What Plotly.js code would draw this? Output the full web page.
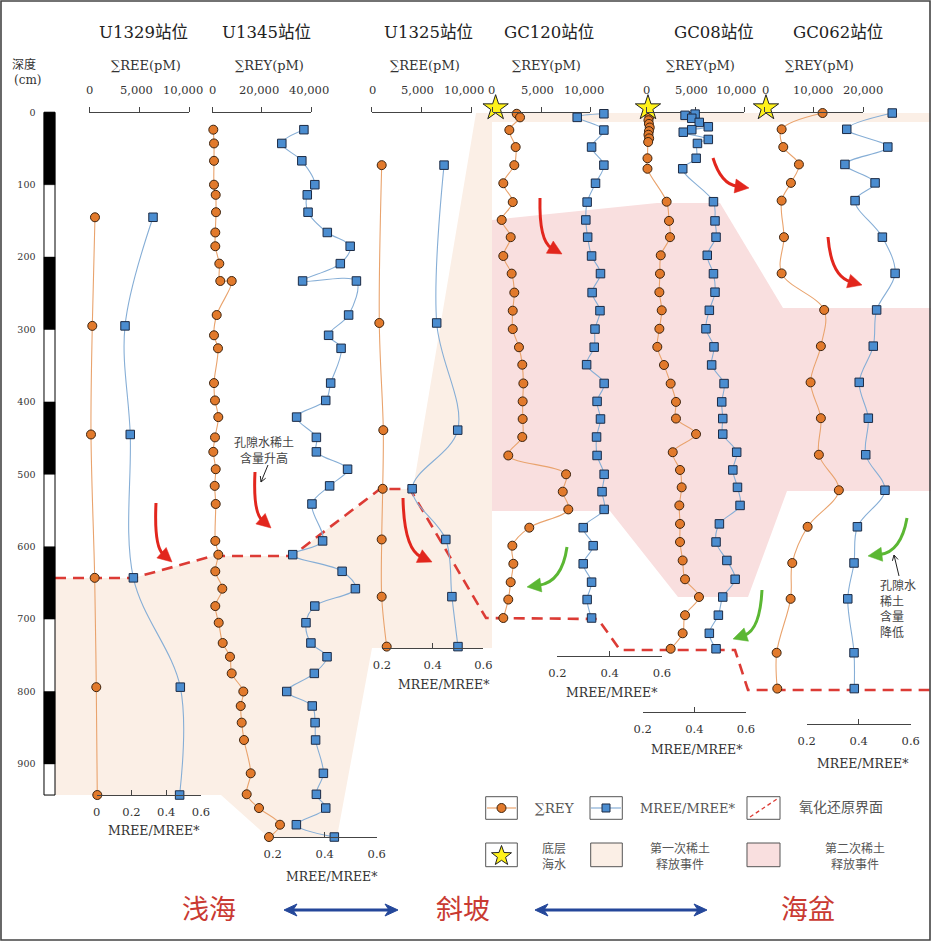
<!DOCTYPE html>
<html><head><meta charset="utf-8">
<script src="https://cdn.plot.ly/plotly-3.0.1.min.js"></script>
<style>html,body{margin:0;padding:0;background:#fff}</style>
</head><body><div id="chart" style="width:931px;height:941px"></div>
<script>
// ---------------- data ----------------
const stationNames = ['U1329站位','U1345站位','U1325站位','GC120站位','GC08站位','GC062站位'];
const sumNames = ['∑REE(pM)','∑REY(pM)','∑REE(pM)','∑REY(pM)','∑REY(pM)','∑REY(pM)'];
const depthTicks = [0,100,200,300,400,500,600,700,800,900];
const topTickVals = [[0,5000,10000],[0,20000,40000],[0,5000,10000],[0,5000,10000],[0,5000,10000],[0,10000,20000]];
const topTickText = [['0','5,000','10,000'],['0','20,000','40,000'],['0','5,000','10,000'],['0','5,000','10,000'],['0','5,000','10,000'],['0','10,000','20,000']];
const mreeTicksFirst = [0, 0.2, 0.4, 0.6];
const mreeTicks = [0.2, 0.4, 0.6];

const u1329Depth = [145, 295, 445, 643, 794, 943];
const u1329Ree = [570, 300, 170, 540, 700, 800];
const u1329Mree = [0.324, 0.163, 0.193, 0.211, 0.481, 0.477];

const u1345Depth = [24,43,67,100,114,138,166,185,209,233,233,280,308,326,374,398,421,449,469,493,516,541,592,611,634,658,682,705,733,752,775,800,820,843,867,913,942,961,984,1001];
const u1345Rey = [525,810,810,810,1500,1620,1330,1330,2950,3350,7960,1900,810,2420,810,1210,2550,1210,525,1500,1090,1500,1330,2550,1330,4160,1330,2710,4320,7270,7960,12650,11600,12000,12930,15640,14020,18990,27470,23030];
const u1345Mree = [0.320,0.235,0.312,0.362,0.333,0.336,0.410,0.498,0.460,0.315,0.522,0.492,0.415,0.463,0.423,0.404,0.292,0.368,0.368,0.488,0.419,0.351,0.392,0.277,0.467,0.518,0.362,0.328,0.347,0.409,0.360,0.254,0.352,0.363,0.365,0.395,0.368,0.404,0.291,0.437];

const u1325Depth = [73, 291, 439, 520, 590, 669, 738];
const u1325Ree = [1000, 760, 1160, 1100, 1000, 1000, 1500];
const u1325Mree = [0.445, 0.416, 0.499, 0.319, 0.452, 0.476, 0.500];

const gc120Depth = [2,7,24.5,48,73,98,124,148.7,172.5,198.5,222.8,249,274,299.4,324.5,348.6,374.5,399.3,423.6,448.5,474,500,524,548.5,573.7,598.6,623.6,649,673,698.5];
const gc120Rey = [2470,2810,1710,2360,2220,1090,2060,925,1850,1090,1950,2220,2060,2060,2700,3040,3150,3080,3080,3040,1600,7540,7200,7770,3760,2020,2120,1850,1600,1090];
const gc120Mree = [0.378,0.276,0.378,0.331,0.378,0.346,0.314,0.309,0.316,0.331,0.365,0.333,0.363,0.344,0.341,0.312,0.379,0.352,0.365,0.350,0.352,0.379,0.371,0.379,0.299,0.337,0.299,0.331,0.314,0.331];

const gc08ReyDepth = [2,6,11,16,21,26,31,36,41,63.5,78,123.5,150,172.5,197.5,223,248.5,273.5,299,324,349,374.7,400,423,444.5,469.5,494,518,543,568.5,593.5,619,645,669.5,694.6,719.6,741];
const gc08Rey = [300,350,250,300,380,300,250,320,220,150,150,2100,2340,2440,1500,1420,1360,1600,1360,1150,1830,2510,3050,3050,5090,2720,3460,3630,3390,3460,3460,3730,3970,5390,3970,3730,2510];
const gc08MreeDepth = [2.5,4.2,8.3,14,20,24,27.5,37.5,43,63.5,78,123.5,150,172.5,197.5,223,248.5,273.5,299,324,349,374.7,400,423,444.5,469.5,494,518,543,568.5,593.5,619,645,669.5,694.6,719.6,741];
const gc08Mree = [0.403,0.364,0.390,0.419,0.454,0.390,0.357,0.454,0.412,0.407,0.355,0.474,0.480,0.484,0.450,0.474,0.480,0.458,0.445,0.476,0.467,0.515,0.506,0.510,0.510,0.564,0.549,0.567,0.577,0.497,0.484,0.526,0.558,0.510,0.493,0.458,0.484];

const gc062Depth = [1,23.5,48,72,97.5,122,172.5,222.5,273,323,373,422.5,473,522,572.5,622.5,672,746.5,796];
const gc062Rey = [11760,3470,3800,6970,5350,3470,3940,3470,12080,11410,9330,11410,11010,15050,8730,5620,5290,2460,2590];
const gc062Mree = [0.529,0.354,0.512,0.347,0.463,0.386,0.491,0.540,0.469,0.456,0.402,0.437,0.427,0.501,0.395,0.382,0.358,0.382,0.383];

// bottom seawater (stars) for GC120, GC08, GC062
const seawaterDepth = -6;
const seawaterRey = [300, 200, 300];

// ---------------- geometry helpers ----------------
const W = 931, H = 941;
const px = x => x / W;
const py = y => 1 - y / H;
const D0 = 112.3, K = 0.724;         // pixel y of depth 0, px per cm
const yTopDepth = -D0 / K, yBotDepth = (H - D0) / K;
const dpx = d => D0 + K * d;
const P = (x, y) => px(x).toFixed(5) + ',' + py(y).toFixed(5);
const poly = (pts, close) => 'M' + pts.map(p => P(p[0], p[1])).join('L') + (close ? 'Z' : '');

const FONT = 'DejaVu Serif, Noto Sans CJK SC, serif';
const CJK = 'Noto Sans CJK SC, DejaVu Serif, sans-serif';
const ORANGE = '#e27a2c', ORANGE_LINE = '#e9a36d', ORANGE_EDGE = '#3d2410';
const BLUE = '#4b8dd0', BLUE_LINE = '#86aed6', BLUE_EDGE = '#1c2b45';
const BEIGE = '#fbefe6', PINK = '#f9dfdf';
const RED = '#e2261d', GREEN = '#5bb733', DASHRED = '#dc3b35';

// panel axis geometry (pixels)
const panels = [
  {top:[89.3,189], max:10000, bot:[96.7,201], br:[0,0.6], by:795, lab:[89.3,136,183]},
  {top:[212,311], max:40000, bot:[272.7,376.7], br:[0.2,0.6], by:837, lab:[212.5,258.7,309]},
  {top:[371.7,471.7], max:10000, bot:[382,483.3], br:[0.2,0.6], by:648, lab:[372,417.5,464]},
  {top:[492.7,590], max:10000, bot:[557.3,662], br:[0.2,0.6], by:656, lab:[491,537,584]},
  {top:[646,744.3], max:10000, bot:[642.7,746], br:[0.2,0.6], by:712, lab:[646,691.7,736]},
  {top:[764.5,863.3], max:20000, bot:[806.7,910.7], br:[0.2,0.6], by:724, lab:[765.5,812.5,862.5]}
];
const titlePos = [[143.5,33],[266,33],[428,33],[549,33],[714,33],[837.5,33]];
const subPos = [[146,66],[269,66],[425,66],[546,66],[700,66],[819,66]];
const mreeTitlePos = [[154,830],[332,876],[444,684],[612,692],[697,749],[863,763]];

const layout = {
  width: W, height: H, margin: {l:0, r:0, t:0, b:0},
  paper_bgcolor: '#ffffff', plot_bgcolor: 'rgba(0,0,0,0)',
  showlegend: false,
  font: {family: FONT, color: '#333'},
  yaxis: {domain:[0,1], range:[yBotDepth, yTopDepth], autorange:false, anchor:'free', position:px(35.5),
          showline:false, zeroline:false, showgrid:false, ticks:'', tickvals:depthTicks,
          tickfont:{size:9.5, color:'#333', family:FONT}},
  shapes: [], annotations: []
};

panels.forEach((p, i) => {
  const tId = 2*i + 1, bId = 2*i + 2;
  const tk = tId === 1 ? 'xaxis' : 'xaxis' + tId;
  const btv = i === 0 ? mreeTicksFirst : mreeTicks;
  layout[tk] = {domain:[px(p.top[0]), px(p.top[1])], range:[0, p.max], autorange:false,
    anchor:'free', position:py(112.3), side:'top', showline:true, linecolor:'#444', linewidth:1,
    ticks:'outside', ticklen:5, tickcolor:'#444', tickwidth:1, tickvals:topTickVals[i],
    showticklabels:false, showgrid:false, zeroline:false};
  layout['xaxis' + bId] = {domain:[px(p.bot[0]), px(p.bot[1])], range:p.br, autorange:false,
    anchor:'free', position:py(p.by), side:'bottom', showline:true, linecolor:'#444', linewidth:1,
    ticks:'inside', ticklen:5, tickcolor:'#444', tickwidth:1, tickvals:btv,
    ticktext:btv.map(v => v === 0 ? '0' : String(v)),
    tickfont:{size:11.5, color:'#333', family:FONT}, ticklabelstandoff:6,
    showgrid:false, zeroline:false};
  // top (sum) tick labels, placed over the tick marks of the top axes
  topTickText[i].forEach((t, k) => layout.annotations.push({text:t, x:px(p.lab[k]), y:py(90), xref:'paper', yref:'paper',
    showarrow:false, xanchor:'center', yanchor:'middle', font:{size:11.5, color:'#333', family:FONT}}));
  layout.annotations.push({text:stationNames[i], x:px(titlePos[i][0]), y:py(titlePos[i][1]), xref:'paper', yref:'paper',
    showarrow:false, xanchor:'center', yanchor:'middle', font:{size:16.5, color:'#222', family:FONT}});
  layout.annotations.push({text:sumNames[i], x:px(subPos[i][0]), y:py(subPos[i][1]), xref:'paper', yref:'paper',
    showarrow:false, xanchor:'center', yanchor:'middle', font:{size:13, color:'#333', family:FONT}});
  layout.annotations.push({text:'MREE/MREE*', x:px(mreeTitlePos[i][0]), y:py(mreeTitlePos[i][1]), xref:'paper', yref:'paper',
    showarrow:false, xanchor:'center', yanchor:'middle', font:{size:12.5, color:'#333', family:FONT}});
});

// ---------------- traces ----------------
const traces = [];
function addSeries(xa, depth, vals, kind) {
  const orange = kind === 'o';
  traces.push({type:'scatter', mode:'lines+markers', x:vals, y:depth, xaxis:xa, yaxis:'y',
    cliponaxis:false, hoverinfo:'skip',
    line:{shape:'spline', smoothing:1, width:1.1, color: orange ? ORANGE_LINE : BLUE_LINE},
    marker:{symbol: orange ? 'circle' : 'square', size: orange ? 9 : 8.5,
      color: orange ? ORANGE : BLUE, line:{color: orange ? ORANGE_EDGE : BLUE_EDGE, width:1}}});
}
addSeries('x2', u1329Depth, u1329Mree, 'b');   addSeries('x', u1329Depth, u1329Ree, 'o');
addSeries('x4', u1345Depth, u1345Mree, 'b');   addSeries('x3', u1345Depth, u1345Rey, 'o');
addSeries('x6', u1325Depth, u1325Mree, 'b');   addSeries('x5', u1325Depth, u1325Ree, 'o');
addSeries('x8', gc120Depth, gc120Mree, 'b');   addSeries('x7', gc120Depth, gc120Rey, 'o');
addSeries('x10', gc08MreeDepth, gc08Mree, 'b'); addSeries('x9', gc08ReyDepth, gc08Rey, 'o');
addSeries('x12', gc062Depth, gc062Mree, 'b');  addSeries('x11', gc062Depth, gc062Rey, 'o');
['x7','x9','x11'].forEach((xa, i) => traces.push({type:'scatter', mode:'markers', x:[seawaterRey[i]], y:[seawaterDepth],
  xaxis:xa, yaxis:'y', cliponaxis:false, hoverinfo:'skip',
  marker:{symbol:'star', size:19, color:'#fff21a', line:{color:'#222', width:1}}}));

// ---------------- shapes ----------------
const S = layout.shapes;
const ps = (path, fill, lc, lw, layer, dash) => S.push({type:'path', xref:'paper', yref:'paper', path,
  fillcolor: fill || 'rgba(0,0,0,0)', line:{color: lc || 'rgba(0,0,0,0)', width: lw || 0, dash: dash || 'solid'}, layer: layer || 'below'});

// first REE release event (beige)
ps(poly([[55,578],[133,578],[213,556],[292,556],[380,489],[413,489],[476,113],[931,113],[931,122],[492,122],
         [492,648],[372,648],[337,837],[268,837],[221,795],[55,795]], true), BEIGE);
// second REE release event (pink)
ps(poly([[492,220],[657,203],[720,203],[783,308],[931,308],[931,491],[787,491],[748,597],[678,597],[610,511],[492,511]], true), PINK);

// depth scale bar
for (let d = 0; d < 943; d += 100) {
  const d2 = Math.min(d + 100, 943);
  if ((d / 100) % 2 === 0) ps(poly([[44,dpx(d)],[55,dpx(d)],[55,dpx(d2)],[44,dpx(d2)]], true), '#000', '#000', 0.5, 'above');
}
ps(poly([[44,dpx(0)],[55,dpx(0)],[55,dpx(943)],[44,dpx(943)]], true), null, '#000', 1, 'above');

// redox boundary (dashed)
ps(poly([[55,578],[133,578],[213,556],[292,556],[380,489],[410,489],[486,618],[598,619],[620,650],[735,650],[748,690],[931,690]], false),
   null, DASHRED, 2.6, 'below', '11px,7px');

// curved arrows
function curvedArrow(Sp, C, E, color, lw, hl, hw) {
  const dx = E[0]-C[0], dy = E[1]-C[1], L = Math.hypot(dx, dy), ux = dx/L, uy = dy/L;
  const B = [E[0]-ux*hl, E[1]-uy*hl], pp = [-uy, ux];
  ps('M' + P(Sp[0],Sp[1]) + 'Q' + P(C[0],C[1]) + ' ' + P(B[0]+ux*2, B[1]+uy*2), null, color, lw, 'above');
  ps(poly([E, [B[0]+pp[0]*hw, B[1]+pp[1]*hw], [B[0]-pp[0]*hw, B[1]-pp[1]*hw]], true), color, color, 0.5, 'above');
}
curvedArrow([156,503],[154,546],[172,562], RED, 3, 14, 7);
curvedArrow([255,472],[253,512],[271,528], RED, 3, 14, 7);
curvedArrow([403,498],[404,549],[432,562], RED, 3, 14, 7);
curvedArrow([540,198],[539,241],[562,254], RED, 3, 14, 7);
curvedArrow([713,158],[721,184],[749,188], RED, 3, 14, 7);
curvedArrow([828,237],[831,276],[862,285], RED, 3, 14, 7);
curvedArrow([567,547],[562,582],[527,587], GREEN, 3, 14, 7);
curvedArrow([762,590],[760,630],[733,639], GREEN, 3, 14, 7);
curvedArrow([907,518],[901,552],[868,556], GREEN, 3, 14, 7);

// thin black pointer arrows
function thinArrow(T, E) {
  const dx = E[0]-T[0], dy = E[1]-T[1], L = Math.hypot(dx, dy), ux = dx/L, uy = dy/L;
  const a = 0.5, hl = 6;
  const r1 = [E[0] - hl*(ux*Math.cos(a) - uy*Math.sin(a)), E[1] - hl*(uy*Math.cos(a) + ux*Math.sin(a))];
  const r2 = [E[0] - hl*(ux*Math.cos(-a) - uy*Math.sin(-a)), E[1] - hl*(uy*Math.cos(-a) + ux*Math.sin(-a))];
  ps(poly([T, E], false), null, '#222', 1, 'above');
  ps(poly([r1, E, r2], false), null, '#222', 1, 'above');
}
thinArrow([268,465],[261,482]);
thinArrow([899,576],[894,555]);

// legend boxes
const box = (x0,y0,x1,y1,fill) => ps(poly([[x0,y0],[x1,y0],[x1,y1],[x0,y1]], true), fill || '#fff', '#555', 1, 'above');
box(485.7,796.7,517.3,819.3); box(590,796.7,622.3,819.3); box(747,796.7,780,819.3);
box(485.7,843,517.3,866.7); box(590.7,843,622.3,866.7,BEIGE); box(747,843,780,866.7,PINK);
ps(poly([[487,808],[516,808]], false), null, ORANGE_LINE, 1.2, 'above');
S.push({type:'circle', xref:'paper', yref:'paper', x0:px(497), x1:px(506), y0:py(803.5), y1:py(812.5), fillcolor:ORANGE, line:{color:ORANGE_EDGE, width:1}, layer:'above'});
ps(poly([[591,808],[621,808]], false), null, BLUE_LINE, 1.2, 'above');
ps(poly([[602,804],[610,804],[610,812],[602,812]], true), BLUE, BLUE_EDGE, 1, 'above');
ps(poly([[750,817],[777,799]], false), null, DASHRED, 1.3, 'above', '4px,3px');
(function star(cx, cy, R, r) {
  const pts = [];
  for (let k = 0; k < 10; k++) {
    const ang = -Math.PI/2 + k*Math.PI/5, rr = k % 2 === 0 ? R : r;
    pts.push([cx + rr*Math.cos(ang), cy + rr*Math.sin(ang)]);
  }
  ps(poly(pts, true), '#fff21a', '#222', 1, 'above');
})(501.5, 856, 10.5, 4.3);

// bottom double arrows
function dblArrow(x0, x1, y, color) {
  ps(poly([[x0+8,y],[x1-8,y]], false), null, color, 3, 'above');
  ps(poly([[x0,y],[x0+13,y-6],[x0+9,y],[x0+13,y+6]], true), color, color, 1, 'above');
  ps(poly([[x1,y],[x1-13,y-6],[x1-9,y],[x1-13,y+6]], true), color, color, 1, 'above');
}
dblArrow(284, 398, 910, '#24479a');
dblArrow(535, 707, 910, '#24479a');

// frame
ps(poly([[1,1],[930,1],[930,940],[1,940]], true), null, '#444', 1.6, 'above');

// ---------------- annotations ----------------
const A = layout.annotations;
const ann = (text, x, y, size, color, family, extra) => A.push(Object.assign({text, x:px(x), y:py(y), xref:'paper', yref:'paper',
  showarrow:false, xanchor:'center', yanchor:'middle', font:{size, color, family: family || FONT}}, extra || {}));
ann('深度', 24, 63, 12, '#333', CJK);
ann('(cm)', 27, 80, 12, '#333');
ann('孔隙水稀土<br>含量升高', 264, 449, 12, '#444', CJK);
ann('孔隙水<br>稀土<br>含量<br>降低', 878, 608, 12, '#444', CJK, {xanchor:'left', align:'left'});
ann('∑REY', 555, 808, 13.5, '#555');
ann('MREE/MREE*', 688, 808, 13, '#555');
ann('氧化还原界面', 841, 806, 14, '#555', CJK);
ann('底层<br>海水', 554, 855, 12, '#555', CJK);
ann('第一次稀土<br>释放事件', 680, 855, 12, '#555', CJK);
ann('第二次稀土<br>释放事件', 855, 855, 12, '#555', CJK);
ann('浅海', 209, 907, 27, '#c93a32', CJK);
ann('斜坡', 463, 907, 27, '#c93a32', CJK);
ann('海盆', 808, 907, 27, '#c93a32', CJK);

Plotly.newPlot('chart', traces, layout, {staticPlot:true, displayModeBar:false});
</script></body></html>
